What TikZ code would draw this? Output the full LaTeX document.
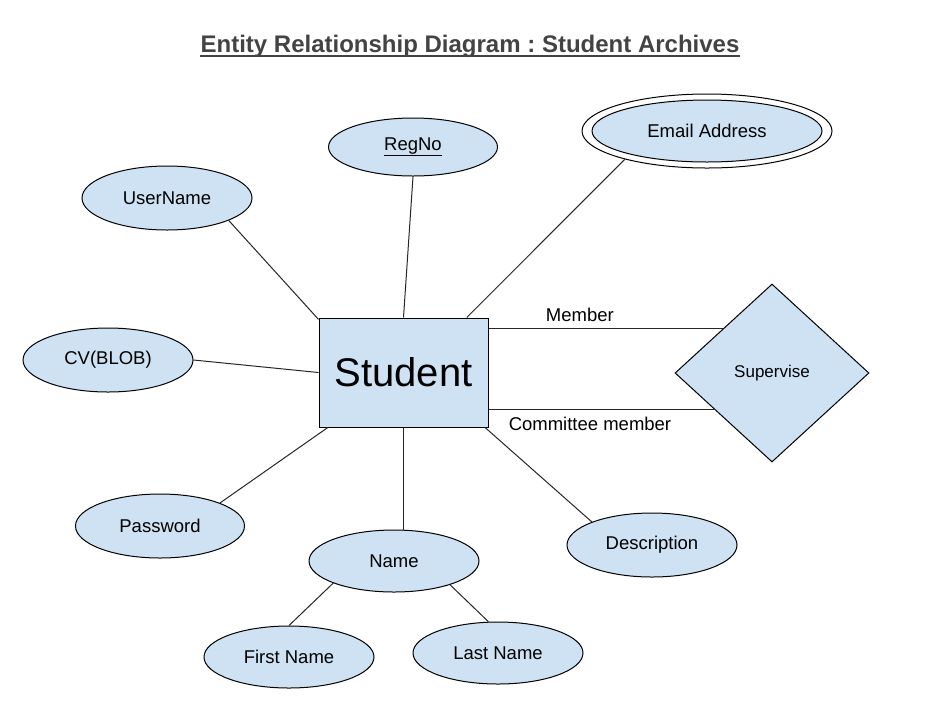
\documentclass[tikz,border=0pt]{standalone}
\usepackage{fontspec}
\setmainfont{Liberation Sans}
\usetikzlibrary{shapes.geometric,calc}
\definecolor{erfill}{HTML}{CFE2F3}
\definecolor{titlegray}{HTML}{434343}
\frenchspacing
\begin{document}
\begin{tikzpicture}[x=1pt,y=-1pt,
  attr/.style={ellipse,draw=black,fill=erfill,line width=1pt,inner sep=0pt,
    minimum width=170pt,minimum height=64pt,font=\fontsize{18.5}{22}\selectfont},
  entity/.style={rectangle,draw=black,fill=erfill,line width=1pt,inner sep=0pt,
    minimum width=169pt,minimum height=109pt,font=\fontsize{40}{46}\selectfont},
  relation/.style={diamond,draw=black,fill=erfill,line width=1pt,inner sep=0pt,
    minimum width=194pt,minimum height=178pt,font=\fontsize{17}{20}\selectfont},
  link/.style={line width=1pt,draw=black!85},
  lbl/.style={font=\fontsize{18.5}{22}\selectfont,inner sep=0pt}]
\useasboundingbox (0,0) rectangle (941,724);

% title
\node[font=\bfseries\fontsize{24}{28}\selectfont,text=titlegray,inner sep=0pt] (title) at (470,46) {Entity Relationship Diagram : Student Archives};
\draw[titlegray,line width=2pt] ([yshift=-3.5pt]title.base west) -- ([yshift=-3.5pt]title.base east);

% entity and relationship
\node[entity] (stu) at (403.5,372.5) {Student};
\node[relation] (sup) at (772,373) {Supervise};

% attributes
\node[attr] (user) at (167,198) {UserName};
\node[attr,minimum width=169pt,minimum height=58pt] (reg) at (413,147) {\underline{RegNo}};
\node[attr,fill=white,minimum width=250pt,minimum height=74pt] (mail) at (707,131) {};
\node[attr,minimum width=230pt,minimum height=62pt] (mailin) at (707,131) {Email Address};
\node[attr] (cv) at (108,360) {CV(BLOB)};
\node[attr,minimum width=169pt] (pwd) at (160,526) {Password};
\node[attr,minimum height=62pt] (name) at (394,561) {Name};
\node[attr,minimum height=62pt] (first) at (289,657) {First Name};
\node[attr,minimum height=62pt] (last) at (498,653) {Last Name};
\node[attr] (desc) at (652,545) {Description};

% attribute links
\draw[link] (user.-20.4) -- (stu.148.6);
\draw[link] (reg.south) -- (stu.north);
\draw[link] (mail.199.8) -- (stu.41.5);
\draw[link] (cv.east) -- (stu.west);
\draw[link] (pwd.21.5) -- (stu.216.2);
\draw[link] (stu.south) -- (stu.south |- name.north);
\draw[link] (desc.159.3) -- (stu.-34.4);
\draw[link] (name.200.4) -- (first.north);
\draw[link] (name.-23.2) -- (last.107.9);

% relationship links
\draw[link] (stu.east |- sup.138) -- node[lbl,pos=0.39,above=7pt] {Member} (sup.138);
\draw[link] (stu.east |- sup.212) -- node[lbl,pos=0.45,below=7pt] {Committee member} (sup.212);
\end{tikzpicture}
\end{document}
